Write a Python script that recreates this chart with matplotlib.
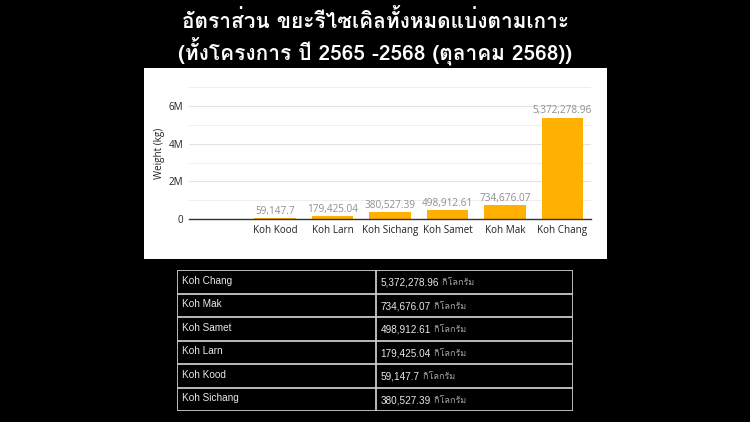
import matplotlib
matplotlib.use("Agg")
import matplotlib.pyplot as plt
import matplotlib.font_manager as fm
from matplotlib.ticker import MultipleLocator, FuncFormatter

# ข้อมูล
title_lines = ["อัตราส่วน ขยะรีไซเคิลทั้งหมดแบ่งตามเกาะ",
               "(ทั้งโครงการ ปี 2565 -2568 (ตุลาคม 2568))"]
islands = ["Koh Kood", "Koh Larn", "Koh Sichang", "Koh Samet", "Koh Mak", "Koh Chang"]
weights = [59147.7, 179425.04, 380527.39, 498912.61, 734676.07, 5372278.96]
table_order = ["Koh Chang", "Koh Mak", "Koh Samet", "Koh Larn", "Koh Kood", "Koh Sichang"]
unit = "กิโลกรัม"
y_label = "Weight (kg)"


def find_thai_font():
    # หาฟอนต์ที่มีอักษรไทย
    try:
        from fontTools.ttLib import TTFont
    except ImportError:
        return None
    for path in sorted(fm.findSystemFonts()):
        try:
            f = TTFont(path, fontNumber=0, lazy=True)
            cmap = f.getBestCmap()
            if cmap and 0x0E01 in cmap and 0x0E2D in cmap:
                return fm.FontProperties(fname=path).get_name()
        except Exception:
            continue
    return None


thai = find_thai_font()
thai_family = [thai, "DejaVu Sans"] if thai else ["DejaVu Sans"]


def fmt(v):
    return f"{v:,.2f}".rstrip("0").rstrip(".")


W, H = 750, 422
fig = plt.figure(figsize=(W / 100, H / 100), dpi=100, facecolor="black")


def box(x0, y0, x1, y1):
    # พิกัดพิกเซล -> สัดส่วนของรูป
    return [x0 / W, 1 - y1 / H, (x1 - x0) / W, (y1 - y0) / H]


# หัวเรื่อง
fig.text(0.5, 1 - 20 / H, title_lines[0], color="white", fontsize=15,
         fontweight="bold", ha="center", va="center", family=thai_family)
fig.text(0.5, 1 - 51 / H, title_lines[1], color="white", fontsize=15,
         fontweight="bold", ha="center", va="center", family=thai_family)

# พื้นขาวของกราฟ
bg = fig.add_axes(box(143.5, 68, 606.5, 259))
bg.set_facecolor("white")
bg.set_xticks([])
bg.set_yticks([])
for s in bg.spines.values():
    s.set_visible(False)
bg.set_zorder(0)

ax = fig.add_axes(box(189, 86.8, 591, 219.3))
ax.set_zorder(1)
ax.patch.set_alpha(0)
x = list(range(len(islands)))
ax.bar(x, weights, width=0.72, color="#FFB000", zorder=3)
for xi, v in zip(x, weights):
    ax.text(xi, v + 60000, fmt(v), ha="center", va="bottom", color="#8f8f8f",
            fontsize=7.2, family="Open Sans", zorder=4)

ax.set_xlim(-1.5, 5.5)
ax.set_ylim(0, 7e6)
ax.yaxis.set_major_locator(MultipleLocator(2e6))
ax.yaxis.set_minor_locator(MultipleLocator(1e6))
ax.yaxis.set_major_formatter(FuncFormatter(lambda v, p: "0" if v == 0 else f"{v / 1e6:.0f}M"))
ax.grid(axis="y", which="major", color="#e2e2e2", linewidth=0.8, zorder=0)
ax.grid(axis="y", which="minor", color="#eeeeee", linewidth=0.8, zorder=0)
ax.set_xticks(x)
ax.set_xticklabels(islands)
for s in ["top", "right", "left"]:
    ax.spines[s].set_visible(False)
ax.spines["bottom"].set_color("#333333")
ax.spines["bottom"].set_linewidth(1.0)
ax.spines["bottom"].set_zorder(5)
ax.tick_params(axis="both", which="both", length=0, labelsize=7.1, labelcolor="#222222")
ax.tick_params(axis="x", pad=4)
ax.tick_params(axis="y", pad=4)
for lab in ax.get_xticklabels() + ax.get_yticklabels():
    lab.set_family("Open Sans")
ax.set_ylabel(y_label, fontsize=7.1, color="#222222", family="Open Sans", labelpad=3)

# ตาราง
tax = fig.add_axes(box(177, 270, 573, 411))
tax.set_xlim(0, 1)
tax.set_ylim(len(table_order), 0)
tax.axis("off")
lookup = dict(zip(islands, weights))
edge = "#c8c8c8"
for r in range(len(table_order) + 1):
    tax.axhline(r, color=edge, linewidth=1.3)
for c in [0, 0.5025, 1]:
    tax.axvline(c, color=edge, linewidth=1.3)
for r, name in enumerate(table_order):
    tax.text(0.013, r + 0.45, name, color="#e8e8e8", fontsize=7.2, va="center", ha="left",
             family="Liberation Sans")
    t = tax.text(0.5145, r + 0.55, fmt(lookup[name]), color="#e8e8e8", fontsize=7.2,
                 va="center", ha="left", family="Liberation Sans")
    tax.annotate(" " + unit, xy=(1, 0.5), xycoords=t, va="center", ha="left",
                 color="#a8a8a8", fontsize=6.5, family=thai_family)

fig.savefig("out.png", dpi=100, facecolor="black")
